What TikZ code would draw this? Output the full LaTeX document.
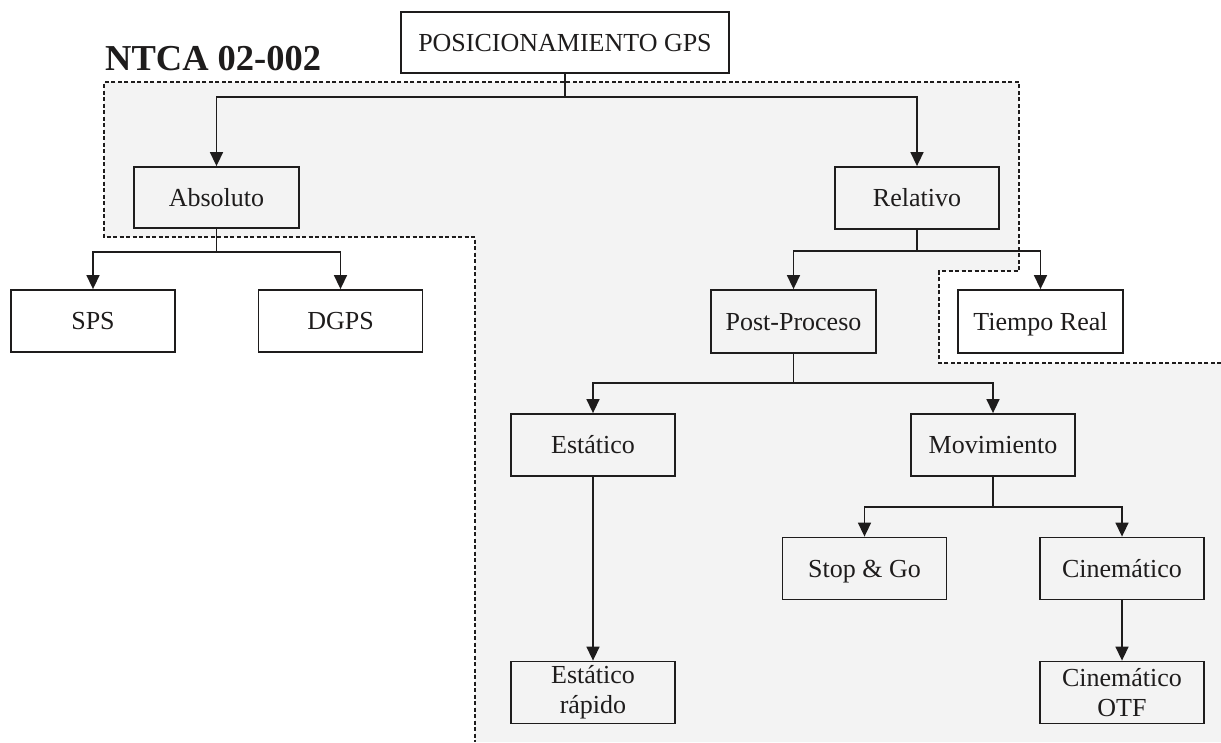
\documentclass[tikz,border=0pt]{standalone}
\usepackage{fontspec}
\setmainfont{Liberation Serif}
\usetikzlibrary{arrows.meta}
\definecolor{regfill}{RGB}{243,243,243}
\definecolor{ink}{RGB}{30,28,28}
\begin{document}
\begin{tikzpicture}[x=1pt,y=-1pt,
  box/.style={draw=ink, line width=1.8pt, minimum width=164pt, minimum height=62pt, inner sep=0pt, align=center, text height=20pt, text depth=3pt, font=\fontsize{26}{30}\selectfont, text=ink},
  twoline/.style={text height=, text depth=},
  conn/.style={draw=ink, line width=1.5pt},
  arr/.style={conn, -{Triangle[length=14pt,width=13pt]}},
  region/.style={draw=ink, line width=1.8pt, dash pattern=on 4pt off 2.5pt}]
\useasboundingbox (0,0) rectangle (1221,742);
% shaded region
\fill[regfill] (104,82) -| (1019,271) -| (939,363) -- (1221,363) -- (1221,742) -- (475,742) |- (104,237) -- cycle;
\draw[region] (1221,363) -- (939,363) -- (939,271) -- (1019,271) -- (1019,82) -- (104,82) -- (104,237) -- (475,237) -- (475,742);
% title
\node[anchor=base west, inner sep=0pt, font=\fontsize{36.5}{40}\selectfont\bfseries, text=ink] (title) at (105,70) {NTCA 02-002};
% nodes
\node[box, minimum width=328pt, minimum height=61pt] (pos) at (565,42.5) {POSICIONAMIENTO GPS};
\node[box, minimum width=165pt, minimum height=61pt] (abs) at (216.5,197.5) {Absoluto};
\node[box] (rel) at (917,198) {Relativo};
\node[box] (sps) at (93,321) {SPS};
\node[box] (dgps) at (340.5,321) {DGPS};
\node[box, minimum width=165pt, minimum height=63pt] (post) at (793.5,321.5) {Post-Proceso};
\node[box, minimum width=165pt, minimum height=63pt] (treal) at (1040.5,321.5) {Tiempo Real};
\node[box] (est) at (593,445) {Estático};
\node[box] (mov) at (993,445) {Movimiento};
\node[box] (stop) at (864.5,568.5) {Stop \& Go};
\node[box] (cine) at (1122,568.5) {Cinemático};
\node[box, twoline] (estr) at (593,692.5) {Estático\\rápido};
\node[box, twoline] (otf) at (1122,692.5) {Cinemático\\OTF};
% junctions
\coordinate (j1) at (565,97);
\coordinate (j2) at (216.5,252);
\coordinate (j3) at (917,251);
\coordinate (j4) at (793.5,383);
\coordinate (j5) at (993,507);
% connectors
\draw[conn] (pos.south) -- (j1);
\draw[arr] (j1) -| (abs);
\draw[arr] (j1) -| (rel);
\draw[conn] (abs.south) -- (j2);
\draw[arr] (j2) -| (sps);
\draw[arr] (j2) -| (dgps);
\draw[conn] (rel.south) -- (j3);
\draw[arr] (j3) -| (post);
\draw[arr] (j3) -| (treal);
\draw[conn] (post.south) -- (j4);
\draw[arr] (j4) -| (est);
\draw[arr] (j4) -| (mov);
\draw[arr] (est) -- (estr);
\draw[conn] (mov.south) -- (j5);
\draw[arr] (j5) -| (stop);
\draw[arr] (j5) -| (cine);
\draw[arr] (cine) -- (otf);
\end{tikzpicture}
\end{document}
